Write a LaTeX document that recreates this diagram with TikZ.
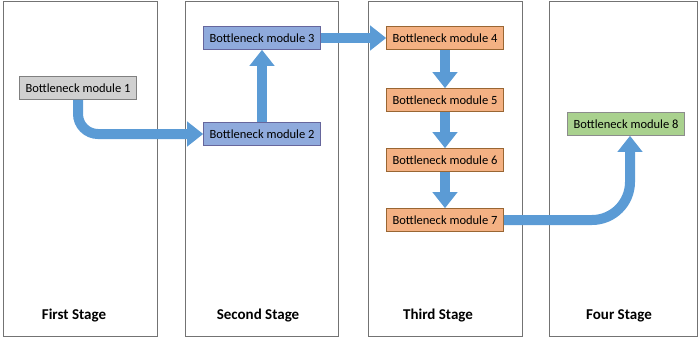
\documentclass[tikz,border=0pt]{standalone}
\usepackage{fontspec}
\setmainfont{Carlito}
\usetikzlibrary{arrows.meta}
\definecolor{flowblue}{RGB}{91,155,213}
\definecolor{greyfill}{RGB}{208,208,208}
\definecolor{bluefill}{RGB}{143,170,220}
\definecolor{orangefill}{RGB}{244,177,131}
\definecolor{greenfill}{RGB}{169,209,142}

\begin{document}
\begin{tikzpicture}[x=1pt, y=-1pt,
        stagebox/.style={draw=black!55, line width=0.8pt},
        stagename/.style={font=\fontsize{15}{17}\selectfont\bfseries},
        module/.style={rectangle, draw, line width=0.6pt, minimum width=117pt,
            minimum height=23pt, inner sep=1pt, font=\fontsize{12.5}{14}\selectfont},
        flow/.style={line width=10pt, draw=flowblue,
            -{Triangle[width=24pt,length=16pt]}}]
        \useasboundingbox (0,0) rectangle (699,343);
        % stages
        \draw[stagebox] (3,1) rectangle (157,336);
        \draw[stagebox] (185,1) rectangle (338,336);
        \draw[stagebox] (368,1) rectangle (522,336);
        \draw[stagebox] (549,1) rectangle (697,336);
        \node[stagename] (s1) at (74,316) {First Stage};
        \node[stagename] (s2) at (258,316) {Second Stage};
        \node[stagename] (s3) at (438,316) {Third Stage};
        \node[stagename] (s4) at (619,316) {Four Stage};
        % modules
        \node[module, fill=greyfill, draw=black!50] (m1) at (78,88) {Bottleneck module 1};
        \node[module, fill=bluefill, draw=blue!35!black!60] (m2) at (262,134) {Bottleneck module 2};
        \node[module, fill=bluefill, draw=blue!35!black!60] (m3) at (262,38) {Bottleneck module 3};
        \node[module, fill=orangefill, draw=brown!80!black] (m4) at (445,38) {Bottleneck module 4};
        \node[module, fill=orangefill, draw=brown!80!black] (m5) at (445,100) {Bottleneck module 5};
        \node[module, fill=orangefill, draw=brown!80!black] (m6) at (445,160) {Bottleneck module 6};
        \node[module, fill=orangefill, draw=brown!80!black] (m7) at (445,220) {Bottleneck module 7};
        \node[module, fill=greenfill, draw=black!45] (m8) at (626,124) {Bottleneck module 8};
        % flow
        \draw[flow, rounded corners=20pt] (m1.south) |- (m2.west);
        \draw[flow] (m2.north) -- (m3.south);
        \draw[flow] (m3.east) -- (m4.west);
        \draw[flow] (m4.south) -- (m5.north);
        \draw[flow] (m5.south) -- (m6.north);
        \draw[flow] (m6.south) -- (m7.north);
        \draw[flow, rounded corners=38pt] (m7.east) -| ([xshift=4pt]m8.south);
\end{tikzpicture}
\end{document}
